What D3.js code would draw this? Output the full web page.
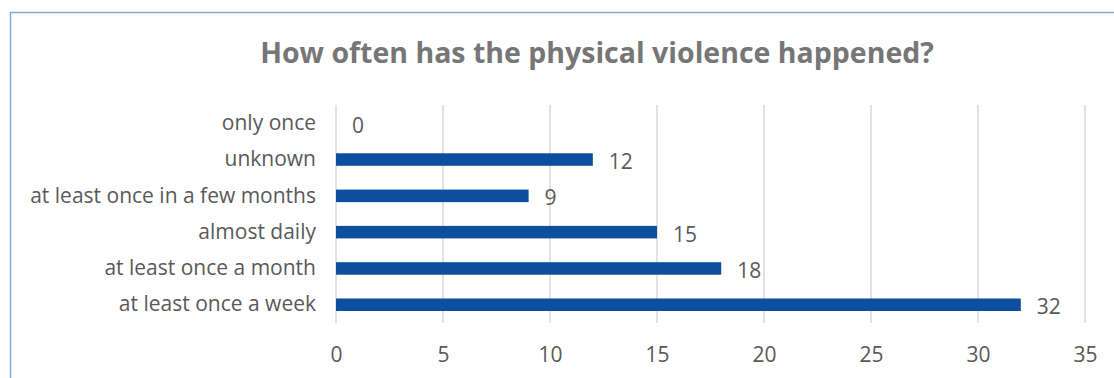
<!DOCTYPE html>
<html>
<head>
<meta charset="utf-8">
<script src="https://cdn.jsdelivr.net/npm/d3@7"></script>
<style>
	body { margin: 0; background: #fff; }
	svg { display: block; font-family: "Open Sans", "Noto Sans", sans-serif; }
</style>
</head>
<body>
<svg id="chart"></svg>
<script>
// Data, top row first.
var categories = ["only once", "unknown", "at least once in a few months", "almost daily", "at least once a month", "at least once a week"];
var counts = [0, 12, 9, 15, 18, 32];
var xTicks = [0, 5, 10, 15, 20, 25, 30, 35];
var chartTitle = "How often has the physical violence happened?";

// Definitions.
var width = 1114;
var height = 378;
var plotLeft = 336;
var plotRight = 1085;
var plotTop = 105;
var plotBottom = 323;
var labelSize = 21;

var svg = d3.select("#chart")
	.attr("width", width)
	.attr("height", height);

// Chart frame (runs off the right and bottom of the picture).
svg.append("rect")
	.attr("x", 10.5)
	.attr("y", 12.5)
	.attr("width", width + 20)
	.attr("height", height + 20)
	.attr("fill", "none")
	.attr("stroke", "#86a8d4")
	.attr("stroke-width", 1.5);

var x = d3.scaleLinear().domain([0, 35]).range([plotLeft, plotRight]);
var y = d3.scaleBand().domain(categories).range([plotTop, plotBottom]).paddingInner(0.655).paddingOuter(0.33);

// Gridlines.
svg.append("g")
	.selectAll("line")
	.data(xTicks)
	.enter()
	.append("line")
	.attr("x1", function(d) { return x(d); })
	.attr("x2", function(d) { return x(d); })
	.attr("y1", plotTop)
	.attr("y2", plotBottom)
	.attr("stroke", "#d9d9d9")
	.attr("stroke-width", 1.5);

// Bars.
svg.append("g")
	.selectAll("rect")
	.data(counts)
	.enter()
	.append("rect")
	.attr("x", x(0))
	.attr("y", function(d, i) { return y(categories[i]); })
	.attr("width", function(d) { return x(d) - x(0); })
	.attr("height", y.bandwidth())
	.attr("fill", "#0d4f9e");

// Value labels.
svg.append("g")
	.selectAll("text")
	.data(counts)
	.enter()
	.append("text")
	.attr("x", function(d) { return x(d) + 16; })
	.attr("y", function(d, i) { return y(categories[i]) + y.bandwidth() / 2 + 2; })
	.attr("dy", "0.35em")
	.attr("font-size", labelSize)
	.attr("fill", "#595959")
	.text(function(d) { return d; });

// Category axis.
var yAxis = svg.append("g")
	.attr("transform", "translate(" + (plotLeft - 20) + ",0)")
	.call(d3.axisLeft(y).tickSize(0).tickPadding(0));
yAxis.select(".domain").remove();
yAxis.selectAll("text")
	.attr("font-size", labelSize)
	.attr("font-family", "\"Open Sans\", sans-serif")
	.attr("fill", "#595959");

// Value axis.
var xAxis = svg.append("g")
	.attr("transform", "translate(0," + plotBottom + ")")
	.call(d3.axisBottom(x).tickValues(xTicks).tickSize(0).tickPadding(24));
xAxis.select(".domain").remove();
xAxis.selectAll("text")
	.attr("font-size", labelSize)
	.attr("font-family", "\"Open Sans\", sans-serif")
	.attr("fill", "#595959");

// Title.
svg.append("text")
	.attr("x", 597)
	.attr("y", 63)
	.attr("text-anchor", "middle")
	.attr("font-size", 28.5)
	.attr("font-weight", "bold")
	.attr("fill", "#767676")
	.text(chartTitle);
</script>
</body>
</html>
